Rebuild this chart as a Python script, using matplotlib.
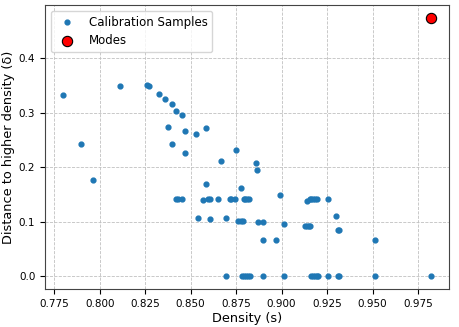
import matplotlib
matplotlib.use("Agg")
import matplotlib.pyplot as plt
import numpy as np

density = [0.780, 0.7897, 0.7964, 0.811, 0.8259, 0.8272, 0.8326, 0.8357, 0.840, 0.8418,
           0.845, 0.8375, 0.840, 0.8467, 0.8469, 0.8529, 0.8582, 0.8752, 0.8667, 0.886,
           0.8864, 0.8585, 0.8777, 0.8989,
           0.8422, 0.8431, 0.8455, 0.8569, 0.8594, 0.8607, 0.8652, 0.8717, 0.8724, 0.8744,
           0.8792, 0.8800, 0.8811, 0.8822, 0.9141, 0.9156, 0.9163, 0.9174, 0.9185, 0.9196, 0.9254,
           0.8538, 0.8609, 0.8694, 0.8763, 0.8777, 0.8788, 0.8868, 0.8897, 0.9016, 0.9299,
           0.9127, 0.9138, 0.9149, 0.9156, 0.9312, 0.9317,
           0.8900, 0.8969, 0.9516,
           0.8694, 0.8784, 0.8795, 0.8806, 0.8817, 0.8828, 0.8897, 0.9016, 0.9159, 0.9170,
           0.9181, 0.9192, 0.9201, 0.9254, 0.9310, 0.9317, 0.9516, 0.9819]
delta = [0.333, 0.242, 0.176, 0.349, 0.351, 0.349, 0.334, 0.325, 0.316, 0.303,
         0.295, 0.274, 0.242, 0.266, 0.226, 0.261, 0.272, 0.232, 0.211, 0.208,
         0.194, 0.170, 0.162, 0.149,
         0.141, 0.141, 0.141, 0.140, 0.141, 0.141, 0.141, 0.141, 0.141, 0.141,
         0.141, 0.141, 0.141, 0.141, 0.138, 0.141, 0.141, 0.141, 0.141, 0.141, 0.141,
         0.106, 0.105, 0.106, 0.102, 0.102, 0.102, 0.099, 0.099, 0.096, 0.110,
         0.092, 0.092, 0.092, 0.092, 0.085, 0.085,
         0.066, 0.066, 0.066,
         0.0, 0.0, 0.0, 0.0, 0.0, 0.0, 0.0, 0.0, 0.0, 0.0,
         0.0, 0.0, 0.0, 0.0, 0.0, 0.0, 0.0, 0.0]
mode_density = [0.9819]
mode_delta = [0.474]

fig = plt.figure(figsize=(4.59, 3.27), dpi=100)
ax = fig.add_axes([0.098, 0.116, 0.880, 0.869])
ax.scatter(density, delta, s=12, color="#1f77b4", label="Calibration Samples", zorder=3)
ax.scatter(mode_density, mode_delta, s=55, color="red", edgecolor="black", linewidth=0.8,
           label="Modes", zorder=4)
ax.grid(True, linestyle="--", color="#c0c0c0", linewidth=0.6)
ax.set_axisbelow(True)
ax.set_xticks([0.775, 0.800, 0.825, 0.850, 0.875, 0.900, 0.925, 0.950, 0.975])
ax.set_yticks([0.0, 0.1, 0.2, 0.3, 0.4])
ax.tick_params(labelsize=7.5)
for s in ax.spines.values():
    s.set_color("#444444")
ax.set_xlabel("Density (s)", fontsize=9.3, labelpad=2)
ax.set_ylabel("Distance to higher density (δ)", fontsize=9.3, labelpad=3)
ax.legend(loc="upper left", fontsize=8.5)
fig.savefig("out.png", dpi=100)
